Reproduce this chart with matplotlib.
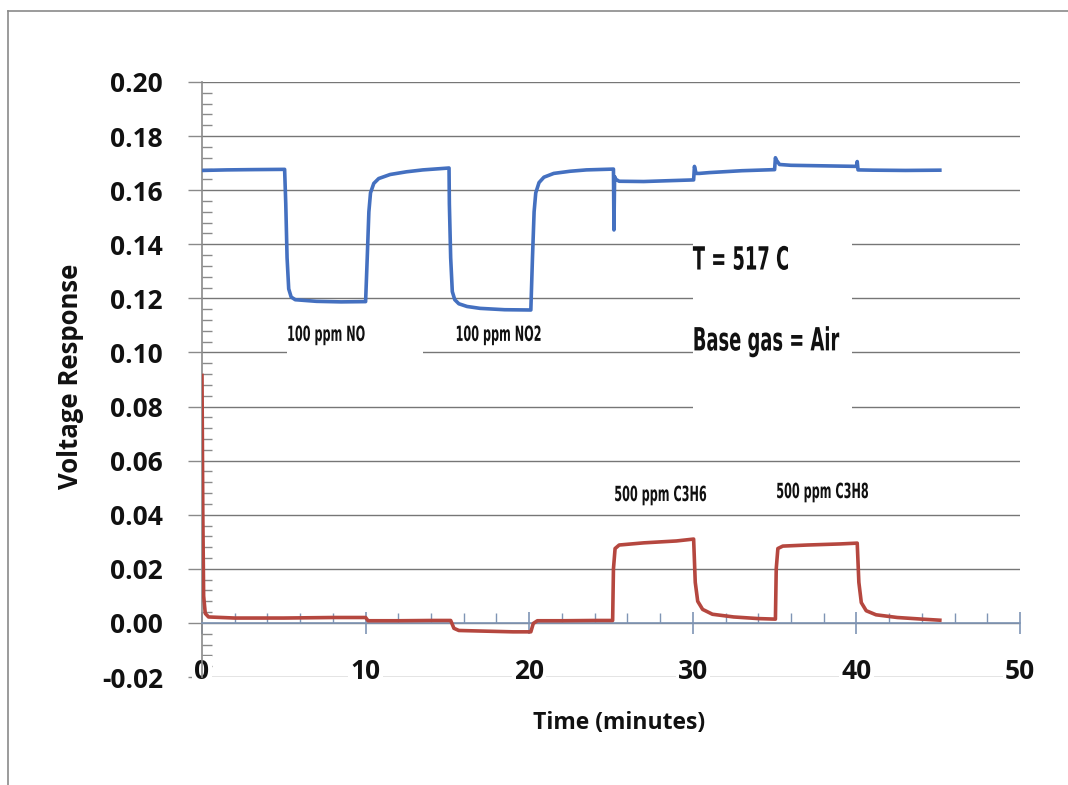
import matplotlib
matplotlib.use("Agg")
import matplotlib.pyplot as plt
from matplotlib.patches import Rectangle
from matplotlib.lines import Line2D
from matplotlib.ticker import MultipleLocator
from matplotlib.patheffects import AbstractPathEffect
from matplotlib.transforms import Affine2D

# ---------------- data ----------------
blue_t = [0, 1.5, 3, 5.05, 5.12, 5.2, 5.3, 5.45, 5.7, 7, 8.5, 10.0, 10.1, 10.2, 10.3, 10.5,
          10.8, 11.5, 12.5, 13.5,
          15.1, 15.12, 15.2, 15.3, 15.45, 15.7, 16.2, 17, 18.5, 20.1, 20.2, 20.3, 20.4, 20.6,
          20.9, 21.5, 22.5, 23.5,
          25.15, 25.18, 25.22, 25.3, 25.5, 27, 28.5, 30.05, 30.1, 30.2, 30.4, 31, 33,
          35.0, 35.05, 35.1, 35.3, 36, 38, 40.0, 40.05, 40.1, 41, 43, 45.1]
blue_v = [0.1673, 0.1675, 0.1676, 0.1677, 0.155, 0.135, 0.1235, 0.1205, 0.1195, 0.1189, 0.1187,
          0.1188, 0.135, 0.152, 0.159, 0.1625, 0.1643, 0.1658, 0.1668, 0.1675,
          0.1682, 0.155, 0.135, 0.1225, 0.1195, 0.1180, 0.1170, 0.1163, 0.1158, 0.1157,
          0.135, 0.152, 0.159, 0.1628, 0.1648, 0.1662, 0.1670, 0.1675,
          0.1678, 0.1453, 0.1650, 0.1640, 0.1633, 0.1632, 0.1635, 0.1638, 0.1688, 0.1662,
          0.1662, 0.1665, 0.1672,
          0.1676, 0.1720, 0.1712, 0.1695, 0.1692, 0.1690, 0.1688, 0.1706, 0.1675, 0.1674,
          0.1673, 0.1674]

red_t = [0, 0.05, 0.1, 0.2, 0.4, 2, 5, 8, 10.0, 10.15, 12, 14, 15.2, 15.4, 15.7, 17, 19,
         20.1, 20.25, 20.5, 22, 24, 25.1, 25.15, 25.25, 25.5, 27, 29, 30.05, 30.15, 30.3,
         30.6, 31.2, 32.5, 34, 35.05, 35.1, 35.2, 35.5, 37, 39, 40.05, 40.15, 40.3, 40.6,
         41.2, 42.5, 44, 45.1]
red_v = [0.0915, 0.040, 0.010, 0.0035, 0.0022, 0.0018, 0.0018, 0.0020, 0.0020, 0.0008, 0.0008,
         0.0009, 0.0009, -0.0020, -0.0028, -0.0030, -0.0033,
         -0.0033, -0.0002, 0.0008, 0.0008, 0.0009, 0.0009, 0.020, 0.0275, 0.0288, 0.0296,
         0.0303, 0.0310, 0.015, 0.0080,
         0.0050, 0.0032, 0.0022, 0.0016, 0.0014, 0.020, 0.0275, 0.0284, 0.0288, 0.0292,
         0.0295, 0.015, 0.0075, 0.0045,
         0.0030, 0.0020, 0.0014, 0.0010]

x_ticks = [0, 10, 20, 30, 40, 50]
y_ticks = [-0.02, 0.00, 0.02, 0.04, 0.06, 0.08, 0.10, 0.12, 0.14, 0.16, 0.18, 0.20]
y_tick_labels = ["-0.02", "0.00", "0.02", "0.04", "0.06", "0.08", "0.10", "0.12",
                 "0.14", "0.16", "0.18", "0.20"]

annotations = [
    ("100 ppm NO", 5.2, 0.1065),
    ("100 ppm NO2", 15.5, 0.1065),
    ("500 ppm C3H6", 25.2, 0.0473),
    ("500 ppm C3H8", 35.1, 0.0484),
]
cond_texts = [("T = 517 C", 30.0, 0.1338), ("Base gas = Air", 30.0, 0.1039)]


class Condense(AbstractPathEffect):
    """Horizontally compress glyphs about the text origin (narrow display face look)."""

    def __init__(self, sx):
        super().__init__()
        self.sx = sx

    def draw_path(self, renderer, gc, tpath, affine, rgbFace=None):
        m = affine.get_matrix()
        tx, ty = m[0, 2], m[1, 2]
        new = affine + Affine2D().translate(-tx, -ty).scale(self.sx, 1.0).translate(tx, ty)
        renderer.draw_path(gc, tpath, new, rgbFace)


# ---------------- figure ----------------
fig = plt.figure(figsize=(10.68, 7.85), dpi=100)
fig.patch.set_facecolor("white")
ax = fig.add_axes([202 / 1068, 1 - 677 / 785, (1020 - 202) / 1068, (677 - 82) / 785])
ax.set_facecolor("none")

main = ["Open Sans", "DejaVu Sans"]
narrow = ["DejaVu Sans"]

ax.set_xlim(0, 50)
ax.set_ylim(-0.02, 0.20)

ax.set_axisbelow(True)
ax.yaxis.grid(True, color="#767676", lw=1.0)
ax.xaxis.grid(False)

# spines
for s in ["top", "right"]:
    ax.spines[s].set_visible(False)
ax.spines["bottom"].set_position(("data", 0))
ax.spines["bottom"].set_color("#7f95b5")
ax.spines["bottom"].set_linewidth(1.2)
ax.spines["left"].set_color("#8a8a8a")
ax.spines["left"].set_linewidth(1.2)

# ticks
ax.set_xticks(x_ticks)
ax.set_xticklabels([str(v) for v in x_ticks])
ax.xaxis.set_minor_locator(MultipleLocator(2))
ax.tick_params(axis="x", which="major", direction="inout", length=16, width=1.2,
               color="#7f95b5", pad=17, labelsize=19)
ax.tick_params(axis="x", which="minor", direction="in", length=7, width=1.0, color="#7f95b5")
ax.set_yticks(y_ticks)
ax.set_yticklabels(y_tick_labels)
ax.yaxis.set_minor_locator(MultipleLocator(0.004))
ax.tick_params(axis="y", which="major", direction="out", length=10, width=1.0,
               color="#8a8a8a", pad=18, labelsize=19)
ax.tick_params(axis="y", which="minor", direction="in", length=7, width=1.0, color="#8a8a8a")

for lab in ax.get_xticklabels() + ax.get_yticklabels():
    lab.set_fontfamily(main)
    lab.set_fontweight("bold")
    lab.set_color("#111111")
for lab in ax.get_xticklabels():
    lab.set_bbox(dict(facecolor="white", edgecolor="none", pad=1.5))
ax.xaxis.set_zorder(2.2)

ax.set_xlabel("Time (minutes)", fontfamily=main, fontweight="bold", fontsize=16.5,
              color="#111111")
ax.set_ylabel("Voltage Response", fontfamily=main, fontweight="bold", fontsize=18.5,
              color="#111111")
ax.xaxis.set_label_coords(0.51, -0.057)
ax.yaxis.set_label_coords(-0.144, 0.505)

# white text-box areas
ax.add_patch(Rectangle((30.0, 0.075), 9.75, 0.071, facecolor="white", edgecolor="none", zorder=1))
ax.add_patch(Rectangle((5.2, 0.0985), 8.3, 0.013, facecolor="white", edgecolor="none", zorder=1))

# data lines
ax.plot(blue_t, blue_v, color="#4470c0", lw=2.6, zorder=3, solid_joinstyle="round")
ax.plot(red_t, red_v, color="#b5473f", lw=2.6, zorder=3, solid_joinstyle="round")

for txt, x, y in annotations:
    ax.text(x, y, txt, fontfamily=narrow, fontweight="bold", fontsize=15,
            color="#111111", ha="left", va="center", zorder=4,
            path_effects=[Condense(0.54)])
for txt, x, y in cond_texts:
    ax.text(x, y, txt, fontfamily=narrow, fontweight="bold", fontsize=23,
            color="#111111", ha="left", va="center", zorder=4,
            path_effects=[Condense(0.56)])

# outer frame (top & left edges visible)
fig.add_artist(Line2D([8 / 1068, 1.0], [1 - 11 / 785, 1 - 11 / 785], transform=fig.transFigure,
                      color="#8a8a8a", lw=1.2))
fig.add_artist(Line2D([8 / 1068, 8 / 1068], [0.0, 1 - 11 / 785], transform=fig.transFigure,
                      color="#8a8a8a", lw=1.2))

fig.savefig("out.png", dpi=100)
